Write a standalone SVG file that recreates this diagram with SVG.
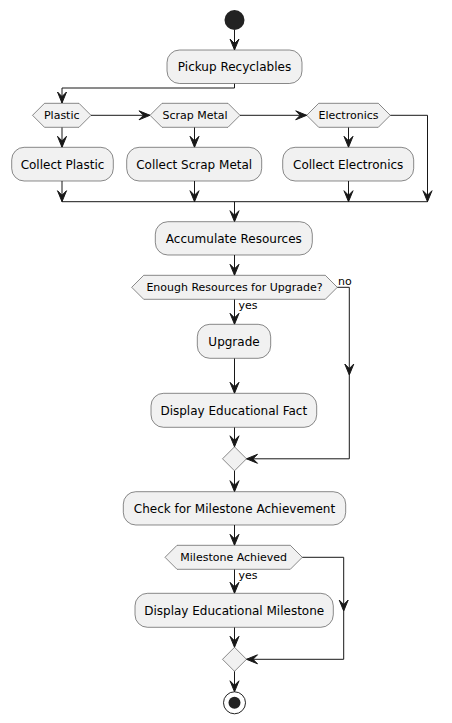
<svg xmlns="http://www.w3.org/2000/svg" xmlns:xlink="http://www.w3.org/1999/xlink" width="452" height="723" viewBox="0 0 452 723">
<style>
.box{fill:#F1F1F1;stroke:#181818;stroke-width:0.5}
.t{font-family:"DejaVu Sans",Verdana,sans-serif;font-size:12px;fill:#000;text-anchor:middle}
.td{font-family:"DejaVu Sans",Verdana,sans-serif;font-size:11px;fill:#000;text-anchor:middle}
.tl{font-family:"DejaVu Sans",Verdana,sans-serif;font-size:11px;fill:#000}
.ln{fill:none;stroke:#181818;stroke-width:1}
.ah{fill:#181818;stroke:#181818;stroke-width:1}
</style>
<defs>
<path id="ah" class="ah" d="M-4.5,-11 L0,0 L4.5,-11 L0,-6.5 Z"/>
</defs>
<rect width="452" height="723" fill="#FFFFFF"/>
<g id="connectors">
<path class="ln" d="M234.5,30 V50"/><use xlink:href="#ah" transform="translate(234.5,50)"/>
<path class="ln" d="M234.5,83.5 V88 H62 V103"/><use xlink:href="#ah" transform="translate(62,103)"/>
<path class="ln" d="M91,115.3 H150"/><use xlink:href="#ah" transform="translate(150,115.3) rotate(-90)"/>
<path class="ln" d="M240,115.3 H306.7"/><use xlink:href="#ah" transform="translate(306.7,115.3) rotate(-90)"/>
<path class="ln" d="M390.3,115.3 H427.5 V201.7"/><use xlink:href="#ah" transform="translate(427.5,201.7)"/>
<path class="ln" d="M62,127.3 V147.3"/><use xlink:href="#ah" transform="translate(62,147.3)"/>
<path class="ln" d="M194.5,127.3 V147.3"/><use xlink:href="#ah" transform="translate(194.5,147.3)"/>
<path class="ln" d="M348.5,127.3 V147.3"/><use xlink:href="#ah" transform="translate(348.5,147.3)"/>
<path class="ln" d="M62,181 V201.7"/><use xlink:href="#ah" transform="translate(62,201.7)"/>
<path class="ln" d="M194.5,181 V201.7"/><use xlink:href="#ah" transform="translate(194.5,201.7)"/>
<path class="ln" d="M348.5,181 V201.7"/><use xlink:href="#ah" transform="translate(348.5,201.7)"/>
<path class="ln" d="M62,201.7 H427.5"/>
<path class="ln" d="M234.5,201.7 V221.7"/><use xlink:href="#ah" transform="translate(234.5,221.7)"/>
<path class="ln" d="M234.5,255 V275.3"/><use xlink:href="#ah" transform="translate(234.5,275.3)"/>
<path class="ln" d="M337.3,287.3 H349.3 V458.8 H246.5"/><use xlink:href="#ah" transform="translate(349.3,375)"/><use xlink:href="#ah" transform="translate(246.5,458.8) rotate(90)"/>
<path class="ln" d="M234.5,299.3 V324.3"/><use xlink:href="#ah" transform="translate(234.5,324.3)"/>
<path class="ln" d="M234.5,358.3 V393.3"/><use xlink:href="#ah" transform="translate(234.5,393.3)"/>
<path class="ln" d="M234.5,427.3 V446.8"/><use xlink:href="#ah" transform="translate(234.5,446.8)"/>
<path class="ln" d="M234.5,470.8 V491.7"/><use xlink:href="#ah" transform="translate(234.5,491.7)"/>
<path class="ln" d="M234.5,525 V545.3"/><use xlink:href="#ah" transform="translate(234.5,545.3)"/>
<path class="ln" d="M302.3,557.3 H343.7 V659.3 H246.5"/><use xlink:href="#ah" transform="translate(343.7,611)"/><use xlink:href="#ah" transform="translate(246.5,659.3) rotate(90)"/>
<path class="ln" d="M234.5,569.3 V593.3"/><use xlink:href="#ah" transform="translate(234.5,593.3)"/>
<path class="ln" d="M234.5,627.3 V647.3"/><use xlink:href="#ah" transform="translate(234.5,647.3)"/>
<path class="ln" d="M234.5,671.3 V691.8"/><use xlink:href="#ah" transform="translate(234.5,691.8)"/>
<text class="tl" x="338" y="285">no</text>
<text class="tl" x="238.5" y="309">yes</text>
<text class="tl" x="238.5" y="579">yes</text>
</g>
<g id="start"><circle cx="234.5" cy="20" r="10" fill="#222222"/></g>
<g id="pickup"><rect class="box" x="167" y="50" width="135" height="33.5" rx="12.5"/><text class="t" x="234.5" y="71">Pickup Recyclables</text></g>
<g id="d-plastic"><polygon class="box" points="32.5,115.3 44.5,103.3 79,103.3 91,115.3 79,127.3 44.5,127.3"/><text class="td" x="61.75" y="119.3">Plastic</text></g>
<g id="d-scrap"><polygon class="box" points="150,115.3 162,103.3 228,103.3 240,115.3 228,127.3 162,127.3"/><text class="td" x="195" y="119.3">Scrap Metal</text></g>
<g id="d-elec"><polygon class="box" points="306.7,115.3 318.7,103.3 378.3,103.3 390.3,115.3 378.3,127.3 318.7,127.3"/><text class="td" x="348.5" y="119.3">Electronics</text></g>
<g id="collect-plastic"><rect class="box" x="11.7" y="147.3" width="101.6" height="33.7" rx="12.5"/><text class="t" x="62.5" y="168.5">Collect Plastic</text></g>
<g id="collect-scrap"><rect class="box" x="126.7" y="147.3" width="135" height="33.7" rx="12.5"/><text class="t" x="194.2" y="168.5">Collect Scrap Metal</text></g>
<g id="collect-elec"><rect class="box" x="282.7" y="147.3" width="131" height="33.7" rx="12.5"/><text class="t" x="348.2" y="168.5">Collect Electronics</text></g>
<g id="accumulate"><rect class="box" x="155.3" y="221.7" width="157" height="33.3" rx="12.5"/><text class="t" x="233.8" y="242.7">Accumulate Resources</text></g>
<g id="d-enough"><polygon class="box" points="131.7,287.3 143.7,275.3 325.3,275.3 337.3,287.3 325.3,299.3 143.7,299.3"/><text class="td" x="234.5" y="291.3">Enough Resources for Upgrade?</text></g>
<g id="upgrade"><rect class="box" x="197.3" y="324.3" width="73.4" height="34" rx="12.5"/><text class="t" x="234" y="345.5">Upgrade</text></g>
<g id="fact"><rect class="box" x="151" y="393.3" width="165.7" height="34" rx="12.5"/><text class="t" x="233.8" y="414.5">Display Educational Fact</text></g>
<g id="merge1"><polygon class="box" points="234.5,446.8 246.5,458.8 234.5,470.8 222.5,458.8"/></g>
<g id="check"><rect class="box" x="123.3" y="491.7" width="222.4" height="33.3" rx="12.5"/><text class="t" x="234.5" y="512.7">Check for Milestone Achievement</text></g>
<g id="d-milestone"><polygon class="box" points="165,557.3 177,545.3 290.3,545.3 302.3,557.3 290.3,569.3 177,569.3"/><text class="td" x="233.7" y="561.3">Milestone Achieved</text></g>
<g id="milestone"><rect class="box" x="135" y="593.3" width="198.3" height="34" rx="12.5"/><text class="t" x="234.2" y="614.5">Display Educational Milestone</text></g>
<g id="merge2"><polygon class="box" points="234.5,647.3 246.5,659.3 234.5,671.3 222.5,659.3"/></g>
<g id="end"><circle cx="234.5" cy="702.8" r="11" fill="none" stroke="#222222" stroke-width="1"/><circle cx="234.5" cy="702.8" r="6" fill="#222222"/></g>
</svg>
